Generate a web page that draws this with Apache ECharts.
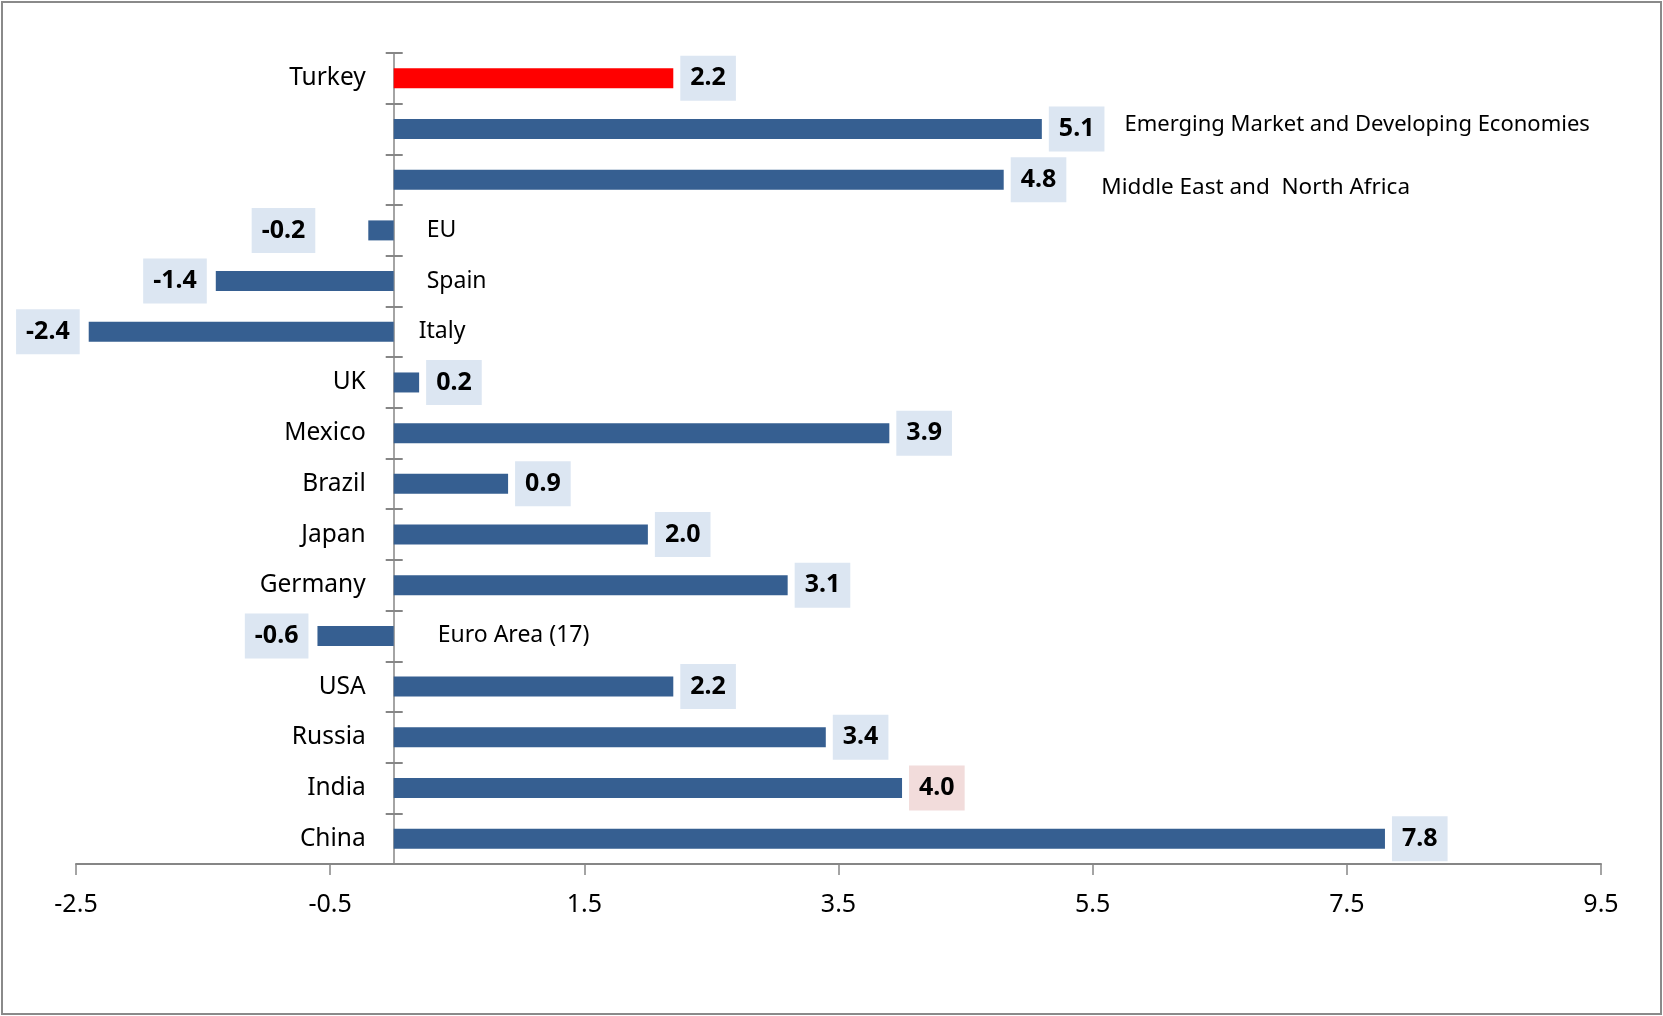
<!DOCTYPE html>
<html>
<head>
<meta charset="utf-8">
<script src="https://cdn.jsdelivr.net/npm/echarts@6/dist/echarts.min.js"></script>
<style>
  html, body { margin: 0; padding: 0; background: #fff; }
  #chart { width: 1663px; height: 1016px; }
</style>
</head>
<body>
<div id="chart"></div>
<script>
// Real GDP growth (%), top row first
const categories = [
  'Turkey',
  'Emerging Market and Developing Economies',
  'Middle East and  North Africa',
  'EU',
  'Spain',
  'Italy',
  'UK',
  'Mexico',
  'Brazil',
  'Japan',
  'Germany',
  'Euro Area (17)',
  'USA',
  'Russia',
  'India',
  'China'
];
const growth = [2.2, 5.1, 4.8, -0.2, -1.4, -2.4, 0.2, 3.9, 0.9, 2.0, 3.1, -0.6, 2.2, 3.4, 4.0, 7.8];
const xTickValues = [-2.5, -0.5, 1.5, 3.5, 5.5, 7.5, 9.5];

// Names written after the value box instead of beside the zero line
const namesAfterValue = ['Emerging Market and Developing Economies', 'Middle East and  North Africa'];
const highlightBar = 'Turkey';
const highlightBox = 'India';

const FONT = '"Noto Sans", "Open Sans", sans-serif';
const BAR = '#365f91';
const GREY = '#868686';

// Small per-name placement tweaks
const afterNameStyle = {
  'Emerging Market and Developing Economies': 'nA',
  'Middle East and  North Africa': 'nB'
};
const negNameGap = { 'EU': 33, 'Spain': 33, 'Italy': 25, 'Euro Area (17)': 44 };
const negLabelGap = { 'EU': 53 };

const valueBox = {
  fontFamily: FONT, fontSize: 25, fontWeight: 'bold', color: '#000',
  lineHeight: 27, padding: [10, 10, 10, 10]
};

// Visible bars with value boxes
const valueData = growth.map((v, i) => {
  const name = categories[i];
  return {
    value: v,
    itemStyle: { color: name === highlightBar ? '#ff0000' : BAR },
    label: {
      position: v < 0 ? 'left' : 'right',
      distance: v < 0 ? (negLabelGap[name] || 9) : 7
    }
  };
});

// Transparent twin bars that carry the country names beside the zero line
const nameData = growth.map((v, i) => {
  const name = categories[i];
  return {
    value: v,
    label: {
      position: v < 0 ? 'right' : 'left',
      distance: v < 0 ? (negNameGap[name] || 30) : 28,
      fontSize: v < 0 ? 23 : 24.5
    }
  };
});

const chart = echarts.init(document.getElementById('chart'));
chart.setOption({
  animation: false,
  backgroundColor: '#fff',
  graphic: [{
    type: 'rect', silent: true,
    shape: { x: 2, y: 2, width: 1659, height: 1012 },
    style: { fill: null, stroke: '#8a8a8a', lineWidth: 2 }
  }],
  grid: { left: 76, right: 62, top: 53, bottom: 152, containLabel: false, outerBoundsMode: 'none' },
  xAxis: {
    type: 'value',
    min: -2.5,
    max: 9.5,
    interval: 2,
    splitLine: { show: false },
    axisLine: { show: true, onZero: false, lineStyle: { color: GREY, width: 2 } },
    axisTick: { show: true, length: 11, customValues: xTickValues, lineStyle: { color: GREY, width: 1.5 } },
    axisLabel: {
      customValues: xTickValues,
      fontFamily: FONT, fontSize: 25, color: '#000', margin: 28,
      formatter: v => String(v)
    }
  },
  yAxis: [
    {
      type: 'category',
      data: categories,
      inverse: true,
      axisLine: { show: true, onZero: true, onZeroAxisIndex: 0, lineStyle: { color: GREY, width: 1.5 } },
      axisTick: { show: true, length: 8, lineStyle: { color: GREY, width: 2 } },
      axisLabel: { show: false }
    },
    {
      type: 'category',
      data: categories,
      inverse: true,
      position: 'left',
      axisLine: { show: true, onZero: true, onZeroAxisIndex: 0, lineStyle: { color: 'rgba(0,0,0,0)', width: 0 } },
      axisTick: { show: true, inside: true, length: 9, lineStyle: { color: GREY, width: 2 } },
      axisLabel: { show: false }
    }
  ],
  series: [
    {
      type: 'bar',
      yAxisIndex: 0,
      barWidth: 20,
      barGap: '-100%',
      silent: true,
      z: 1,
      itemStyle: { color: 'rgba(0,0,0,0)' },
      data: nameData,
      label: {
        show: true,
        fontFamily: FONT, color: '#000',
        formatter: p => namesAfterValue.includes(p.name) ? '' : p.name
      }
    },
    {
      type: 'bar',
      yAxisIndex: 0,
      barWidth: 20,
      barGap: '-100%',
      z: 2,
      data: valueData,
      label: {
        show: true,
        formatter: p => {
          const box = p.name === highlightBox ? 'vp' : 'v';
          let s = '{' + box + '|' + p.value.toFixed(1) + '}';
          if (namesAfterValue.includes(p.name)) s += '{' + afterNameStyle[p.name] + '|' + p.name + '}';
          return s;
        },
        rich: {
          v: Object.assign({ backgroundColor: '#dce6f2' }, valueBox),
          vp: Object.assign({ backgroundColor: '#f2dcdb' }, valueBox),
          nA: { fontFamily: FONT, fontSize: 22, color: '#000', padding: [0, 0, 8, 20] },
          nB: { fontFamily: FONT, fontSize: 22.5, color: '#000', padding: [16, 0, 0, 35] }
        }
      }
    }
  ]
});
</script>
</body>
</html>
